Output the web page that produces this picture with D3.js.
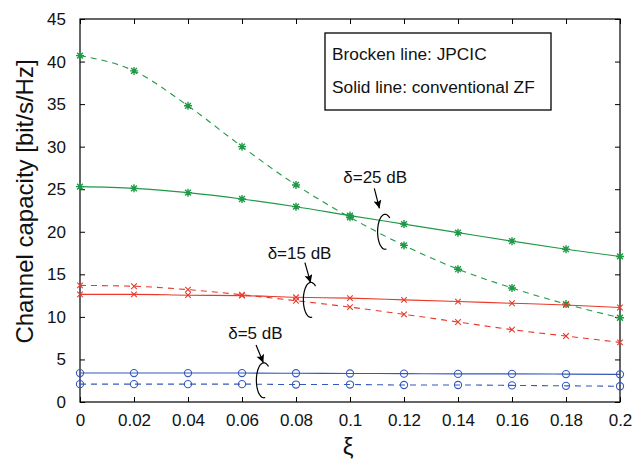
<!DOCTYPE html>
<html>
<head>
<meta charset="utf-8">
<script src="https://cdn.jsdelivr.net/npm/d3@7"></script>
<style>
  html, body { margin: 0; padding: 0; background: #fff; }
  svg { display: block; font-family: "Liberation Sans", Arial, sans-serif; }
</style>
</head>
<body>
<svg id="chart" width="644" height="460"></svg>
<script>
// Channel capacity versus ξ for three SNR levels (δ)
const xi = [0, 0.02, 0.04, 0.06, 0.08, 0.1, 0.12, 0.14, 0.16, 0.18, 0.2];

// JPCIC (broken lines)
const jpcic25 = [40.7, 38.9, 34.8, 30.0, 25.5, 21.7, 18.4, 15.6, 13.4, 11.5, 9.9];
const jpcic15 = [13.7, 13.6, 13.2, 12.6, 11.9, 11.15, 10.3, 9.4, 8.5, 7.75, 7.0];
const jpcic5  = [2.1, 2.1, 2.1, 2.1, 2.05, 2.05, 2.0, 2.0, 1.95, 1.9, 1.85];

// conventional ZF (solid lines)
const zf25 = [25.3, 25.1, 24.6, 23.85, 22.95, 21.9, 20.9, 19.9, 18.9, 17.95, 17.1];
const zf15 = [12.65, 12.65, 12.55, 12.5, 12.3, 12.2, 12.0, 11.8, 11.6, 11.4, 11.1];
const zf5  = [3.4, 3.4, 3.4, 3.4, 3.38, 3.35, 3.33, 3.3, 3.3, 3.28, 3.25];

const xTicks = [0, 0.02, 0.04, 0.06, 0.08, 0.1, 0.12, 0.14, 0.16, 0.18, 0.2];
const yTicks = [0, 5, 10, 15, 20, 25, 30, 35, 40, 45];

const legendLines = ["Brocken line: JPCIC", "Solid line: conventional ZF"];

// Callout labels: text anchor, arrow start/end and bracket centre in data units
const callouts = [
  { text: "δ=25 dB", tx: 0.0975, ty: 25.77, ax0: 0.109, ay0: 25.11, ax1: 0.1109, ay1: 22.76, cx: 0.113, cy: 20.0 },
  { text: "δ=15 dB", tx: 0.0695, ty: 16.77, ax0: 0.0833, ay0: 16.37, ax1: 0.0854, ay1: 14.02, cx: 0.0855, cy: 12.0 },
  { text: "δ=5 dB",  tx: 0.0549, ty: 7.40,  ax0: 0.0652, ay0: 6.70,  ax1: 0.0679, ay1: 4.62,  cx: 0.0681, cy: 2.55 }
];

const W = 644, H = 460;
const margin = { left: 80, right: 24, top: 19, bottom: 58 };
const pw = W - margin.left - margin.right;
const ph = H - margin.top - margin.bottom;

const GREEN = "#1e9a46", RED = "#e8392b", BLUE = "#3558bd";

const svg = d3.select("#chart");
const g = svg.append("g").attr("transform", `translate(${margin.left},${margin.top})`);

const x = d3.scaleLinear().domain([0, 0.2]).range([0, pw]);
const y = d3.scaleLinear().domain([0, 45]).range([ph, 0]);

// arrowhead
svg.append("defs").append("marker")
  .attr("id", "arrow").attr("viewBox", "0 0 10 10")
  .attr("refX", 10).attr("refY", 5)
  .attr("markerWidth", 11).attr("markerHeight", 8)
  .attr("markerUnits", "userSpaceOnUse")
  .attr("orient", "auto")
  .append("path").attr("d", "M0,0 L10,5 L0,10 L2,5 Z").attr("fill", "#000");

// axes with inward ticks on all four sides
const tickLen = 5;
g.append("g").attr("transform", `translate(0,${ph})`)
  .call(d3.axisBottom(x).tickValues(xTicks).tickSizeInner(-tickLen).tickSizeOuter(0)
    .tickPadding(12).tickFormat(d => d3.format("~g")(d)))
  .call(a => a.select(".domain").remove())
  .call(a => a.selectAll("text").attr("font-size", 17).attr("fill", "#111"));
g.append("g")
  .call(d3.axisTop(x).tickValues(xTicks).tickSizeInner(-tickLen).tickSizeOuter(0).tickFormat(""))
  .call(a => a.select(".domain").remove());
g.append("g")
  .call(d3.axisLeft(y).tickValues(yTicks).tickSizeInner(-tickLen).tickSizeOuter(0).tickPadding(14))
  .call(a => a.select(".domain").remove())
  .call(a => a.selectAll("text").attr("font-size", 17).attr("fill", "#111"));
g.append("g").attr("transform", `translate(${pw},0)`)
  .call(d3.axisRight(y).tickValues(yTicks).tickSizeInner(-tickLen).tickSizeOuter(0).tickFormat(""))
  .call(a => a.select(".domain").remove());
g.selectAll(".tick line").attr("stroke", "#000").attr("stroke-width", 1);

g.append("rect").attr("x", 0).attr("y", 0).attr("width", pw).attr("height", ph)
  .attr("fill", "none").attr("stroke", "#000").attr("stroke-width", 1.2);

// series
const series = [
  { v: jpcic25, color: GREEN, dash: "6,5", marker: "star" },
  { v: zf25,    color: GREEN, dash: null,  marker: "star" },
  { v: jpcic15, color: RED,   dash: "6,5", marker: "cross" },
  { v: zf15,    color: RED,   dash: null,  marker: "cross" },
  { v: jpcic5,  color: BLUE,  dash: "6,5", marker: "circle" },
  { v: zf5,     color: BLUE,  dash: null,  marker: "circle" }
];

const line = d3.line().x(d => x(d[0])).y(d => y(d[1])).curve(d3.curveMonotoneX);

series.forEach(s => {
  const pts = xi.map((xv, i) => [xv, s.v[i]]);
  g.append("path").datum(pts)
    .attr("d", line).attr("fill", "none")
    .attr("stroke", s.color).attr("stroke-width", 1.1)
    .attr("stroke-dasharray", s.dash);

  const m = g.append("g").selectAll("g").data(pts).join("g")
    .attr("transform", d => `translate(${x(d[0])},${y(d[1])})`)
    .attr("stroke", s.color).attr("fill", "none").attr("stroke-width", 1.1);
  if (s.marker === "circle") {
    m.append("circle").attr("r", 3.6);
  } else if (s.marker === "cross") {
    m.append("path").attr("d", "M-2.8,-2.8L2.8,2.8M-2.8,2.8L2.8,-2.8");
  } else {
    m.append("path").attr("d", "M-4,0L4,0M0,-4L0,4M-2.9,-2.9L2.9,2.9M-2.9,2.9L2.9,-2.9")
      .attr("stroke-width", 1.4);
  }
});

// callouts: label, arrow and a bracket arc open to the right
const arcLine = d3.line().curve(d3.curveBasis);
callouts.forEach(c => {
  g.append("text").attr("x", x(c.tx)).attr("y", y(c.ty))
    .attr("font-size", 17).attr("fill", "#111").text(c.text);
  g.append("line")
    .attr("x1", x(c.ax0)).attr("y1", y(c.ay0))
    .attr("x2", x(c.ax1)).attr("y2", y(c.ay1))
    .attr("stroke", "#000").attr("stroke-width", 1.2)
    .attr("marker-end", "url(#arrow)");
  const rx = 7.5, ry = 17.5;
  const cx = x(c.cx), cy = y(c.cy);
  // t = -90 is the top, 0 the leftmost point, 90 the bottom
  const pts = d3.range(-128, 104, 4).map(t => {
    const a = t * Math.PI / 180;
    return [cx - rx * Math.cos(a), cy + ry * Math.sin(a)];
  });
  g.append("path").attr("d", arcLine(pts)).attr("fill", "none")
    .attr("stroke", "#000").attr("stroke-width", 1.2);
});

// legend box
const lg = g.append("g").attr("transform", `translate(${245},${14})`);
lg.append("rect").attr("x", 0).attr("y", 0).attr("width", 226).attr("height", 77)
  .attr("fill", "#fff").attr("stroke", "#000").attr("stroke-width", 1.3);
lg.selectAll("text").data(legendLines).join("text")
  .attr("x", 7).attr("y", (d, i) => 27 + i * 33.3)
  .attr("font-size", 17.3).attr("fill", "#111").text(d => d);

// axis titles
svg.append("text")
  .attr("transform", `translate(33,201.5) rotate(-90)`)
  .attr("text-anchor", "middle").attr("font-size", 24).attr("fill", "#111")
  .text("Channel capacity [bit/s/Hz]");
svg.append("text")
  .attr("x", margin.left + pw / 2 - 2).attr("y", 455)
  .attr("text-anchor", "middle").attr("font-size", 24).attr("fill", "#111")
  .text("ξ");
</script>
</body>
</html>
